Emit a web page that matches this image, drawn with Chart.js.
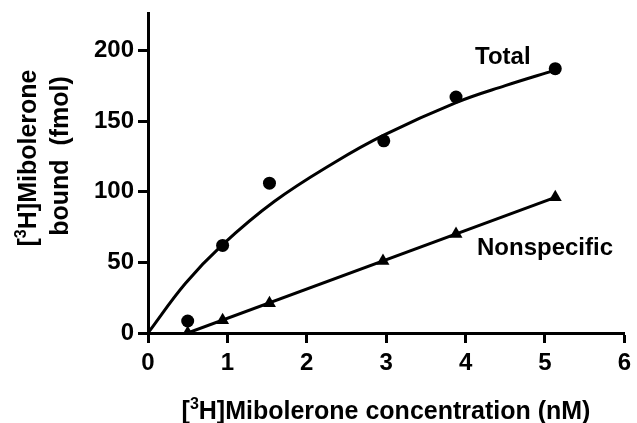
<!DOCTYPE html>
<html lang="en">
<head>
  <meta charset="UTF-8">
  <title>Mibolerone binding</title>
  <script src="https://cdn.jsdelivr.net/npm/chart.js"></script>
  <style>
    html, body { margin: 0; padding: 0; background: #fff; }
    #wrap { width: 637px; height: 423px; position: relative; }
  </style>
</head>
<body>
  <div id="wrap"><canvas id="chartBinding"></canvas></div>

  <script>
    // measured points (nM, fmol)
    const totalConc = [0.5, 0.94, 1.53, 2.97, 3.88, 5.13];
    const totalBound = [8.5, 62, 106, 136, 167, 187];
    const nonspecConc = [0.5, 0.94, 1.53, 2.96, 3.88, 5.13];
    const nonspecBound = [0, 9, 21, 51, 70, 96];

    // fitted curves
    const totalFitConc = [0, 0.47, 0.93, 1.59, 2.36, 2.97, 3.88, 4.5, 5.13];
    const totalFitBound = [0, 35, 62, 93, 121, 140, 163, 175, 186];
    const nonspecFitConc = [0.5, 5.13];
    const nonspecFitBound = [0, 96];

    const xTicks = [0, 1, 2, 3, 4, 5, 6];
    const yTicks = [0, 50, 100, 150, 200];

    const FONT = '"Liberation Sans", Arial, Helvetica, sans-serif';

    function pts(xs, ys) {
      return xs.map((x, i) => ({ x: x, y: ys[i] }));
    }

    // draws text with a superscript 3 after the leading bracket
    function drawSup(ctx, pre, sup, post, cx, cy, size) {
      const big = 'bold ' + size + 'px ' + FONT;
      const small = 'bold ' + Math.round(size * 0.62) + 'px ' + FONT;
      ctx.font = big;
      const w1 = ctx.measureText(pre).width;
      const w3 = ctx.measureText(post).width;
      ctx.font = small;
      const w2 = ctx.measureText(sup).width;
      let x = cx - (w1 + w2 + w3) / 2;
      ctx.textAlign = 'left';
      ctx.textBaseline = 'alphabetic';
      const base = cy + size * 0.36;
      ctx.font = big;
      ctx.fillText(pre, x, base);
      x += w1;
      ctx.font = small;
      ctx.fillText(sup, x, base - size * 0.42);
      x += w2;
      ctx.font = big;
      ctx.fillText(post, x, base);
    }

    const labelsPlugin = {
      id: 'labels',
      afterDraw(chart) {
        const ctx = chart.ctx;
        ctx.save();
        ctx.fillStyle = '#000';
        // x title
        drawSup(ctx, '[', '3', 'H]Mibolerone concentration (nM)', 386, 410, 25);
        // y title, two lines rotated
        ctx.save();
        ctx.translate(27, 158);
        ctx.rotate(-Math.PI / 2);
        drawSup(ctx, '[', '3', 'H]Mibolerone', 0, 0, 25);
        ctx.restore();
        ctx.save();
        ctx.translate(61, 156);
        ctx.rotate(-Math.PI / 2);
        ctx.font = 'bold 25px ' + FONT;
        ctx.textAlign = 'center';
        ctx.textBaseline = 'middle';
        ctx.fillText('bound  (fmol)', 0, 0);
        ctx.restore();
        // series labels
        ctx.font = 'bold 24px ' + FONT;
        ctx.textAlign = 'left';
        ctx.textBaseline = 'middle';
        ctx.fillText('Total', 475, 57);
        ctx.fillText('Nonspecific', 477, 248);
        ctx.restore();
      }
    };

    const ctx = document.getElementById('chartBinding').getContext('2d');
    new Chart(ctx, {
      type: 'scatter',
      data: {
        datasets: [
          { data: pts(totalFitConc, totalFitBound), showLine: true, pointRadius: 0,
            borderColor: '#000', borderWidth: 3, tension: 0.4, order: 2 },
          { data: pts(nonspecFitConc, nonspecFitBound), showLine: true, pointRadius: 0,
            borderColor: '#000', borderWidth: 3, order: 2 },
          { data: pts(totalConc, totalBound), pointStyle: 'circle', pointRadius: 6.5,
            backgroundColor: '#000', borderColor: '#000', borderWidth: 0, order: 1 },
          { data: pts(nonspecConc, nonspecBound), pointStyle: 'triangle', pointRadius: 7.5,
            backgroundColor: '#000', borderColor: '#000', borderWidth: 0, order: 1 }
        ]
      },
      options: {
        responsive: true,
        maintainAspectRatio: false,
        animation: false,
        layout: { padding: { top: 13, right: 6, left: 0, bottom: 0 } },
        plugins: { legend: { display: false }, tooltip: { enabled: false } },
        scales: {
          x: {
            type: 'linear', min: 0, max: 6,
            afterBuildTicks: s => { s.ticks = xTicks.map(v => ({ value: v })); },
            afterFit: s => { s.height = 90; },
            border: { display: true, color: '#000', width: 3 },
            grid: { drawOnChartArea: false, drawTicks: true, tickLength: 10, tickWidth: 3, tickColor: '#000' },
            ticks: { color: '#000', padding: 6, maxRotation: 0, font: { family: FONT, size: 24, weight: 'bold' } }
          },
          y: {
            type: 'linear', min: 0, max: 226,
            afterBuildTicks: s => { s.ticks = yTicks.map(v => ({ value: v })); },
            afterFit: s => { s.width = 148; },
            border: { display: true, color: '#000', width: 3 },
            grid: { drawOnChartArea: false, drawTicks: true, tickLength: 10, tickWidth: 3, tickColor: '#000' },
            ticks: { color: '#000', padding: 4, font: { family: FONT, size: 24, weight: 'bold', lineHeight: 0.8 } }
          }
        }
      },
      plugins: [labelsPlugin]
    });
  </script>
</body>
</html>
